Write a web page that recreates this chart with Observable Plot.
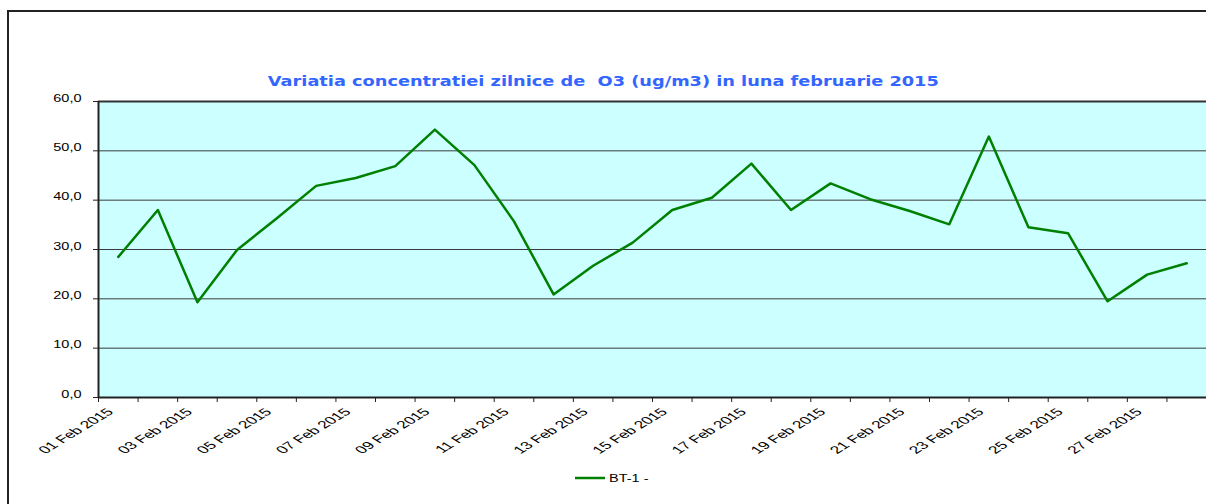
<!DOCTYPE html>
<html>
<head>
<meta charset="utf-8">
<script src="https://cdn.jsdelivr.net/npm/d3@7"></script>
<script src="https://cdn.jsdelivr.net/npm/@observablehq/plot@0.6"></script>
<style>
html, body { margin: 0; padding: 0; background: #fff; }
#wrap { position: relative; width: 1206px; height: 504px; overflow: hidden; background: #fff; }
#border { position: absolute; left: 7px; top: 10px; width: 1400px; height: 700px; border-top: 2px solid #222; border-left: 2px solid #222; box-sizing: border-box; }
#title { position: absolute; left: 0; top: 73px; width: 1206px; text-align: center; font: bold 13.5px "DejaVu Sans", Verdana, sans-serif; line-height: 17px; color: #3366ff; white-space: pre; }
#title span { display: inline-block; transform-origin: center center; }
#legend { position: absolute; left: 575px; top: 471px; height: 14px; display: flex; align-items: center; font: 10px "Liberation Sans", Arial, sans-serif; color: #000; white-space: pre; }
#legend span { display: inline-block; transform-origin: left center; margin-left: 4px; }
#chart { position: absolute; left: 0; top: 0; }
#chart svg { overflow: visible; }
</style>
</head>
<body>
<div id="wrap">
  <div id="border"></div>
  <div id="chart"></div>
  <div id="title"></div>
  <div id="legend"></div>
</div>
<script>
// ---- data ----
const titleText = "Variatia concentratiei zilnice de  O3 (ug/m3) in luna februarie 2015";
const seriesName = "BT-1 -";
const seriesColor = "#008000";
const days = d3.utcDay.range(new Date(Date.UTC(2015, 1, 1)), new Date(Date.UTC(2015, 2, 1)));
const o3 = [28.5, 38.0, 19.3, 29.9, 36.3, 42.9, 44.5, 46.9, 54.3, 47.1,
            35.7, 20.9, 26.7, 31.4, 38.0, 40.5, 47.4, 38.0, 43.4, 40.2,
            37.8, 35.1, 52.9, 34.5, 33.3, 19.5, 24.9, 27.2];
const yTicks = [0, 10, 20, 30, 40, 50, 60];
const gridValues = [10, 20, 30, 40, 50];
const labelDays = days.filter((d, i) => i % 2 === 0);

const data = days.map((d, i) => ({date: d, value: o3[i]}));
const half = 12 * 3600 * 1000;
const boundaries = [...days.map(d => new Date(+d - half)), new Date(+days[days.length - 1] + half)];
const fmtDate = d3.utcFormat("%d %b %Y");

const chart = Plot.plot({
  width: 1206,
  height: 504,
  marginLeft: 98,
  marginRight: 0,
  marginTop: 101,
  marginBottom: 107,
  style: {background: "transparent", fontFamily: "'Liberation Sans', Arial, sans-serif", fontSize: "10px", color: "#000", overflow: "visible"},
  x: {type: "utc", domain: [boundaries[0], boundaries[boundaries.length - 1]]},
  y: {domain: [0, 60], label: null},
  marks: [
    Plot.frame({fill: "#ccffff", stroke: null}),
    Plot.ruleY(gridValues, {stroke: "#3a3a3a", strokeWidth: 1}),
    Plot.ruleY([60], {stroke: "#333", strokeWidth: 2}),
    Plot.ruleY([0], {stroke: "#222", strokeWidth: 2}),
    Plot.ruleX([boundaries[0]], {stroke: "#222", strokeWidth: 2}),
    Plot.axisY({ticks: yTicks, tickSize: 5, tickPadding: 12, tickFormat: d => d.toFixed(1).replace(".", ","), stroke: "#222", fill: "#000", label: null}),
    Plot.axisX({ticks: boundaries, tickSize: 5, tickFormat: () => "", stroke: "#222", label: null}),
    Plot.text(labelDays, {x: d => d, y: labelDays.map(() => 0), text: d => fmtDate(d), rotate: -45, textAnchor: "end", lineAnchor: "middle", dx: -4, dy: 15, fill: "#000", fontSize: 10.5}),
    Plot.line(data, {x: "date", y: "value", stroke: seriesColor, strokeWidth: 2.5})
  ]
});
document.getElementById("chart").appendChild(chart);

// horizontal stretch of texts (the reference image is horizontally stretched)
const S = 1.45;
const SX = 1.65;
function stretchText(t, s) {
  const tr = t.getAttribute("transform") || "";
  const x = +t.getAttribute("x") || 0, y = +t.getAttribute("y") || 0;
  t.removeAttribute("x"); t.removeAttribute("y");
  const m = tr.match(/rotate\([^)]*\)/);
  const rest = tr.replace(/rotate\([^)]*\)/, "");
  t.setAttribute("transform", `${rest} translate(${x},${y}) scale(${m ? SX : s},1) ${m ? m[0] : ""}`);
}
chart.querySelectorAll("text").forEach(t => { if (t.textContent.trim() !== "") stretchText(t, S); });

// title
const tdiv = document.getElementById("title");
const tspan = document.createElement("span");
tspan.textContent = titleText;
tdiv.appendChild(tspan);
const tw = tspan.getBoundingClientRect().width;
tspan.style.transform = `scaleX(${671 / tw})`;

// legend
const leg = document.getElementById("legend");
leg.innerHTML = `<svg width="30" height="14"><line x1="0" y1="7" x2="30" y2="7" stroke="${seriesColor}" stroke-width="2.5"/></svg>`;
const ls = document.createElement("span");
ls.textContent = seriesName;
ls.style.transform = `scaleX(${S})`;
leg.appendChild(ls);
</script>
</body>
</html>
